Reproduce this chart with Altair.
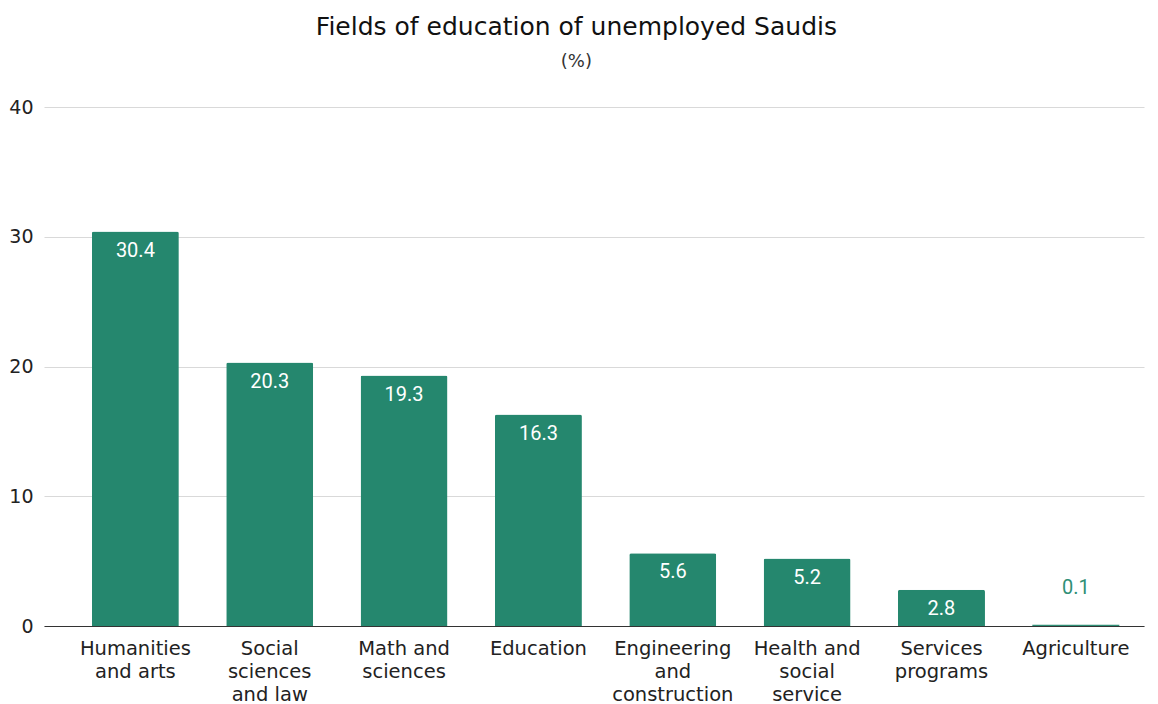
import altair as alt
import pandas as pd

categories = ["Humanities and arts", "Social sciences and law", "Math and sciences",
              "Education", "Engineering and construction", "Health and social service",
              "Services programs", "Agriculture"]
label_lines = [["Humanities", "and arts"], ["Social", "sciences", "and law"],
               ["Math and", "sciences"], ["Education"], ["Engineering", "and", "construction"],
               ["Health and", "social", "service"], ["Services", "programs"], ["Agriculture"]]
values = [30.4, 20.3, 19.3, 16.3, 5.6, 5.2, 2.8, 0.1]
y_ticks = [0, 10, 20, 30, 40]

df = pd.DataFrame({"field": categories, "share": values})

def js_list(lines):
    return "[" + ",".join("'" + s + "'" for s in lines) + "]"

expr = ""
for c, lines in zip(categories, label_lines):
    expr += f"datum.value == '{c}' ? {js_list(lines)} : "
expr += "datum.label"

GREEN = "#25876e"
FONT = "DejaVu Sans"

x = alt.X("field:N", sort=categories, title=None,
          scale=alt.Scale(paddingInner=0.3525, paddingOuter=0.27, align=0.66),
          axis=alt.Axis(labelAngle=0, labelExpr=expr, labelFont=FONT, labelFontSize=19.5,
                        labelColor="#222222", labelLineHeight=23, labelPadding=13,
                        labelBaseline="top", ticks=False, domainColor="#333333",
                        domainWidth=1.2, grid=False, labelLimit=200, zindex=0))
y = alt.Y("share:Q", title=None,
          scale=alt.Scale(domain=[0, 40], nice=False),
          axis=alt.Axis(values=y_ticks, labelFont=FONT, labelFontSize=19, labelColor="#222222",
                        ticks=False, domain=False, gridColor="#d9d9d9", gridWidth=1,
                        labelPadding=11))

bars = alt.Chart(df).transform_filter("datum.share >= 1").mark_bar(
    color=GREEN, cornerRadiusTopLeft=2, cornerRadiusTopRight=2).encode(x=x, y=y)

thin_bars = alt.Chart(df).transform_filter("datum.share < 1").mark_bar(
    color="#2f8f76").encode(x=x, y=y)

inside = alt.Chart(df).transform_filter("datum.share >= 1").mark_text(
    font="Roboto", fontSize=20, color="white", baseline="middle", dy=19
).encode(x=x, y=y, text=alt.Text("share:Q", format=".1f"))

above = alt.Chart(df).transform_filter("datum.share < 1").mark_text(
    font="Roboto", fontSize=20, color="#2f8f76", baseline="middle", dy=-37
).encode(x=x, y=y, text=alt.Text("share:Q", format=".1f"))

chart = (bars + thin_bars + inside + above).properties(
    width=1100, height=519,
    title=alt.TitleParams("Fields of education of unemployed Saudis",
                          subtitle="(%)", font=FONT, fontSize=25, fontWeight="normal",
                          color="#111111", subtitleFont=FONT, subtitleFontSize=18,
                          subtitleColor="#333333", subtitlePadding=13,
                          anchor="middle", frame="bounds", offset=27),
    padding={"left": 0, "top": 7, "right": 5, "bottom": 5},
).configure_view(stroke=None)

chart.save("out.html", embed_options={"renderer": "svg", "actions": False})
